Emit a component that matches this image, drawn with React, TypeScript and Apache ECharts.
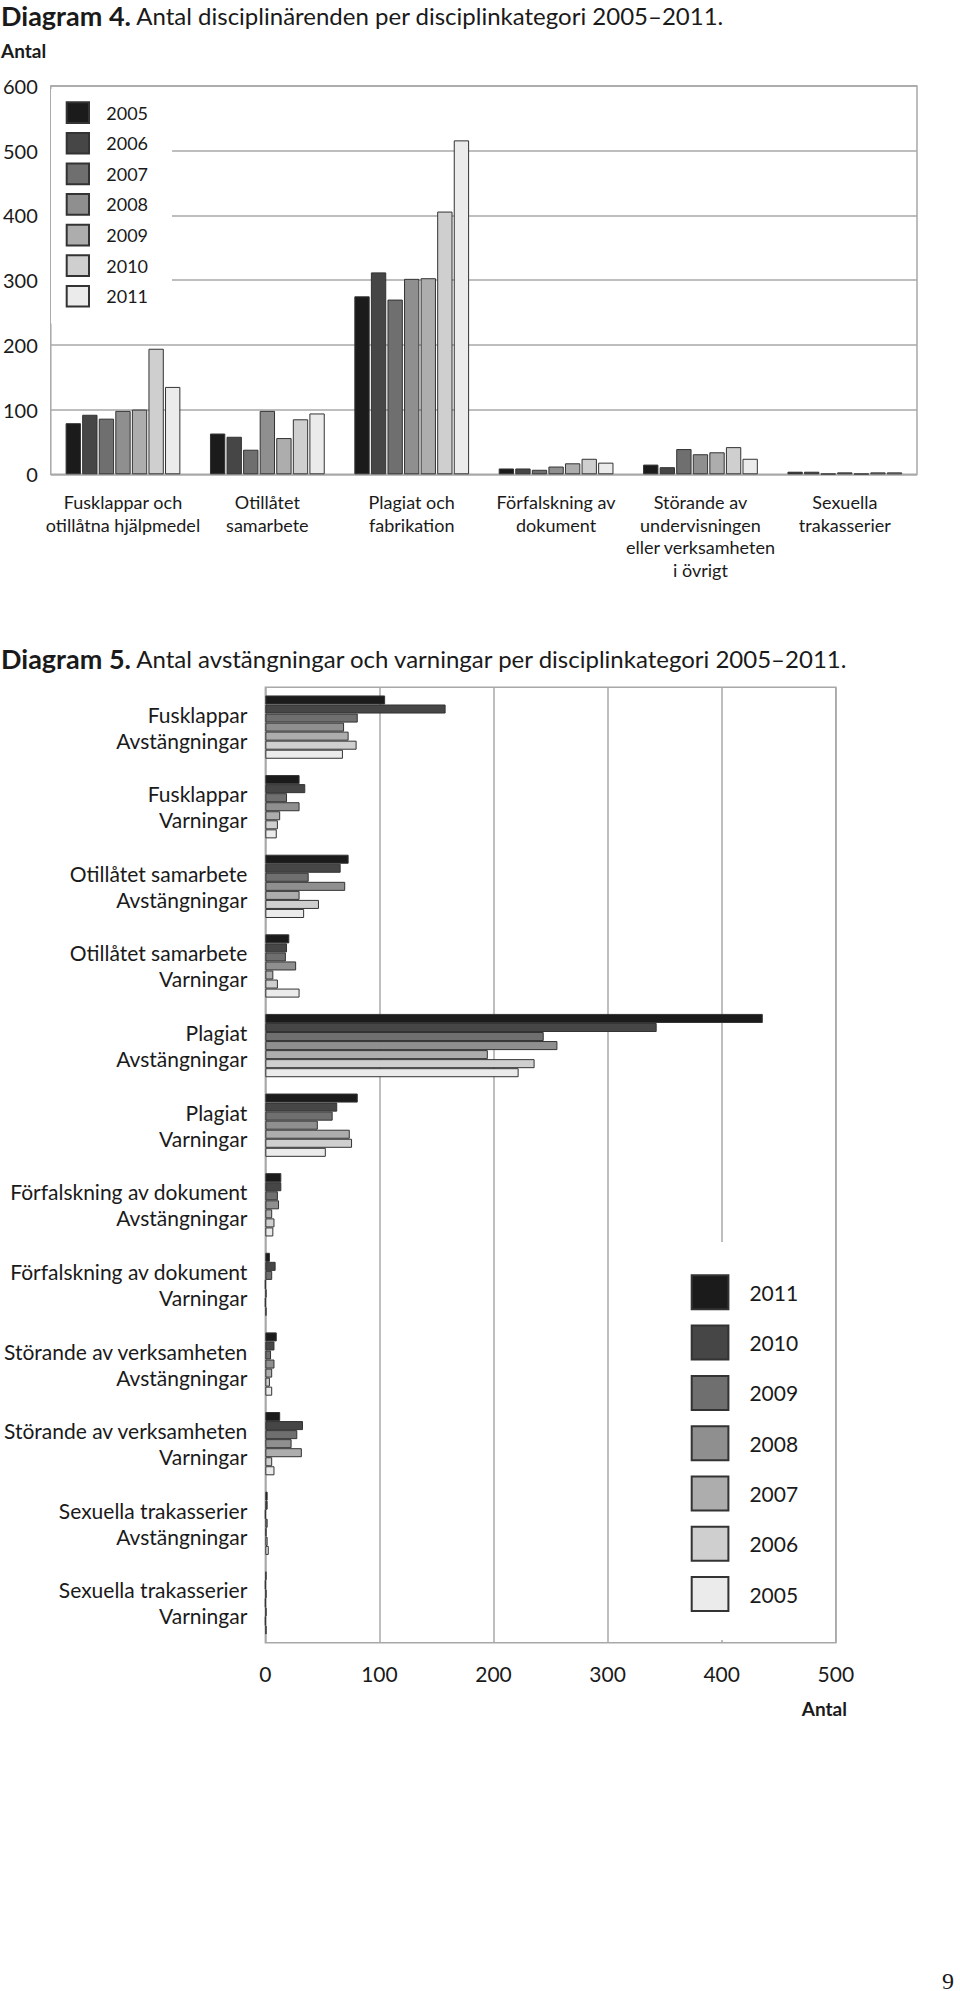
import { useEffect, useRef } from 'react'
import * as echarts from 'echarts'

const FONT = 'Lato, "Open Sans", sans-serif'
const INK = '#1a1a1a'
const RULE = '#a8a8a8'
const EDGE = '#333'

// Diagram 4: antal disciplinärenden per kategori och år
const d4Categories = [
  'Fusklappar och\notillåtna hjälpmedel',
  'Otillåtet\nsamarbete',
  'Plagiat och\nfabrikation',
  'Förfalskning av\ndokument',
  'Störande av\nundervisningen\neller verksamheten\ni övrigt',
  'Sexuella\ntrakasserier',
]
const d4Years = ['2005', '2006', '2007', '2008', '2009', '2010', '2011']
const d4Y2005 = [79, 63, 275, 9, 15, 4]
const d4Y2006 = [92, 58, 312, 9, 11, 4]
const d4Y2007 = [86, 38, 270, 7, 39, 1]
const d4Y2008 = [98, 98, 302, 12, 31, 3]
const d4Y2009 = [100, 56, 303, 17, 34, 1]
const d4Y2010 = [194, 85, 406, 24, 42, 3]
const d4Y2011 = [135, 94, 516, 18, 24, 3]
const d4Ticks = [0, 100, 200, 300, 400, 500, 600]

// Diagram 5: avstängningar och varningar per kategori och år
const d5Categories = [
  'Fusklappar\nAvstängningar',
  'Fusklappar\nVarningar',
  'Otillåtet samarbete\nAvstängningar',
  'Otillåtet samarbete\nVarningar',
  'Plagiat\nAvstängningar',
  'Plagiat\nVarningar',
  'Förfalskning av dokument\nAvstängningar',
  'Förfalskning av dokument\nVarningar',
  'Störande av verksamheten\nAvstängningar',
  'Störande av verksamheten\nVarningar',
  'Sexuella trakasserier\nAvstängningar',
  'Sexuella trakasserier\nVarningar',
]
const d5Years = ['2011', '2010', '2009', '2008', '2007', '2006', '2005']
const d5Y2011 = [105, 30, 73, 21, 436, 81, 14, 4, 10, 13, 2, 1]
const d5Y2010 = [158, 35, 66, 19, 343, 63, 14, 9, 8, 33, 2, 0]
const d5Y2009 = [81, 19, 38, 18, 244, 59, 11, 6, 5, 28, 0, 1]
const d5Y2008 = [69, 30, 70, 27, 256, 46, 12, 0, 8, 23, 2, 0]
const d5Y2007 = [73, 13, 30, 7, 195, 74, 6, 1, 6, 32, 1, 1]
const d5Y2006 = [80, 11, 47, 11, 236, 76, 8, 0, 4, 6, 2, 0]
const d5Y2005 = [68, 10, 34, 30, 222, 53, 7, 1, 6, 8, 3, 1]
const d5Ticks = [0, 100, 200, 300, 400, 500]

// gråskala, mörkast först
const GREYS = ['#1b1b1b', '#464646', '#6f6f6f', '#8f8f8f', '#adadad', '#cfcfcf', '#ebebeb']

const titleStyle = (text: string) => ({
  text,
  fontFamily: FONT,
  fontSize: 24,
  fill: INK,
  verticalAlign: 'middle',
  rich: { b: { fontFamily: FONT, fontSize: 27, fontWeight: 'bold', fill: INK } },
})

function Diagram4() {
  const ref = useRef<HTMLDivElement>(null)

  useEffect(() => {
    if (!ref.current) return
    const chart = echarts.init(ref.current, null, { renderer: 'svg' })
    const values = [d4Y2005, d4Y2006, d4Y2007, d4Y2008, d4Y2009, d4Y2010, d4Y2011]

    chart.setOption({
      animation: false,
      textStyle: { fontFamily: FONT },
      grid: { left: 48, top: 86, width: 869, height: 388.3, show: true, borderColor: RULE, borderWidth: 1.5 },
      // vit bakgrund på teckenförklaringen döljer stödlinjerna bakom den
      legend: {
        orient: 'vertical',
        left: 51,
        top: 89,
        padding: [12.3, 24, 16, 14.7],
        backgroundColor: '#fff',
        itemWidth: 22.3,
        itemHeight: 20.7,
        itemGap: 7.9,
        icon: 'rect',
        selectedMode: false,
        data: d4Years,
        textStyle: { fontFamily: FONT, fontSize: 18, color: INK, padding: [0, 0, 0, 12.3] },
      },
      xAxis: {
        type: 'category',
        data: d4Categories,
        axisLine: { show: false },
        axisTick: { show: false },
        axisLabel: { interval: 0, margin: 16.5, fontSize: 18, lineHeight: 22.5, color: INK, fontFamily: FONT },
      },
      yAxis: {
        type: 'value',
        min: d4Ticks[0],
        max: d4Ticks[d4Ticks.length - 1],
        interval: d4Ticks[1] - d4Ticks[0],
        axisLine: { show: false },
        axisTick: { show: false },
        splitLine: { lineStyle: { color: RULE, width: 1.5 } },
        axisLabel: { margin: 13, fontSize: 20, color: INK, fontFamily: FONT, padding: [13, 0, 0, 0] },
      },
      graphic: [
        {
          type: 'text',
          x: 1,
          y: 15.6,
          style: titleStyle('{b|Diagram 4.} Antal disciplinärenden per disciplinkategori 2005–2011.'),
        },
        {
          type: 'text',
          x: 1,
          y: 50,
          style: { text: 'Antal', fontFamily: FONT, fontSize: 19, fontWeight: 'bold', fill: INK, verticalAlign: 'middle' },
        },
      ],
      series: d4Years.map((year, i) => ({
        name: year,
        type: 'bar',
        data: values[i],
        barGap: '8%',
        barCategoryGap: '20.5%',
        itemStyle: { color: GREYS[i], borderColor: EDGE, borderWidth: 1 },
      })),
    })

    return () => chart.dispose()
  }, [])

  return <div ref={ref} style={{ position: 'absolute', left: 0, top: 0, width: 960, height: 630 }} />
}

function Diagram5() {
  const ref = useRef<HTMLDivElement>(null)

  useEffect(() => {
    if (!ref.current) return
    const chart = echarts.init(ref.current, null, { renderer: 'svg' })
    const values = [d5Y2011, d5Y2010, d5Y2009, d5Y2008, d5Y2007, d5Y2006, d5Y2005]

    chart.setOption({
      animation: false,
      textStyle: { fontFamily: FONT },
      grid: { left: 260.5, top: 57.3, width: 575.3, height: 955.4, show: true, borderColor: RULE, borderWidth: 1.5 },
      legend: {
        orient: 'vertical',
        left: 673,
        top: 612,
        padding: [32.3, 20, 28, 17.7],
        backgroundColor: '#fff',
        itemWidth: 36.7,
        itemHeight: 34,
        itemGap: 14.3,
        icon: 'rect',
        selectedMode: false,
        data: d5Years,
        textStyle: { fontFamily: FONT, fontSize: 21, color: INK, padding: [0, 0, 0, 16] },
      },
      xAxis: {
        type: 'value',
        min: d5Ticks[0],
        max: d5Ticks[d5Ticks.length - 1],
        interval: d5Ticks[1] - d5Ticks[0],
        axisLine: { show: false },
        axisTick: { show: false },
        splitLine: { lineStyle: { color: RULE, width: 1.5 } },
        axisLabel: { margin: 20, fontSize: 21, color: INK, fontFamily: FONT },
      },
      yAxis: {
        type: 'category',
        inverse: true,
        data: d5Categories,
        axisLine: { show: false },
        axisTick: { show: false },
        axisLabel: { interval: 0, margin: 18, fontSize: 21, lineHeight: 26, color: INK, fontFamily: FONT, align: 'right' },
      },
      graphic: [
        {
          type: 'text',
          x: 1,
          y: 28.5,
          style: titleStyle('{b|Diagram 5.} Antal avstängningar och varningar per disciplinkategori 2005–2011.'),
        },
        {
          type: 'text',
          x: 847,
          y: 1078,
          style: { text: 'Antal', fontFamily: FONT, fontSize: 19, fontWeight: 'bold', fill: INK, align: 'right', verticalAlign: 'middle' },
        },
        {
          type: 'text',
          x: 942,
          y: 1351,
          style: { text: '9', fontFamily: 'serif', fontSize: 24, fill: INK, verticalAlign: 'middle' },
        },
      ],
      series: d5Years.map((year, i) => ({
        name: year,
        type: 'bar',
        data: values[i],
        barGap: '0%',
        barCategoryGap: '20.5%',
        itemStyle: { color: GREYS[i], borderColor: EDGE, borderWidth: 1 },
      })),
    })

    return () => chart.dispose()
  }, [])

  return <div ref={ref} style={{ position: 'absolute', left: 0, top: 630, width: 960, height: 1361 }} />
}

export default function App() {
  return (
    <div style={{ position: 'absolute', left: 0, top: 0, width: 960, height: 1991, background: '#fff' }}>
      <Diagram4 />
      <Diagram5 />
    </div>
  )
}
